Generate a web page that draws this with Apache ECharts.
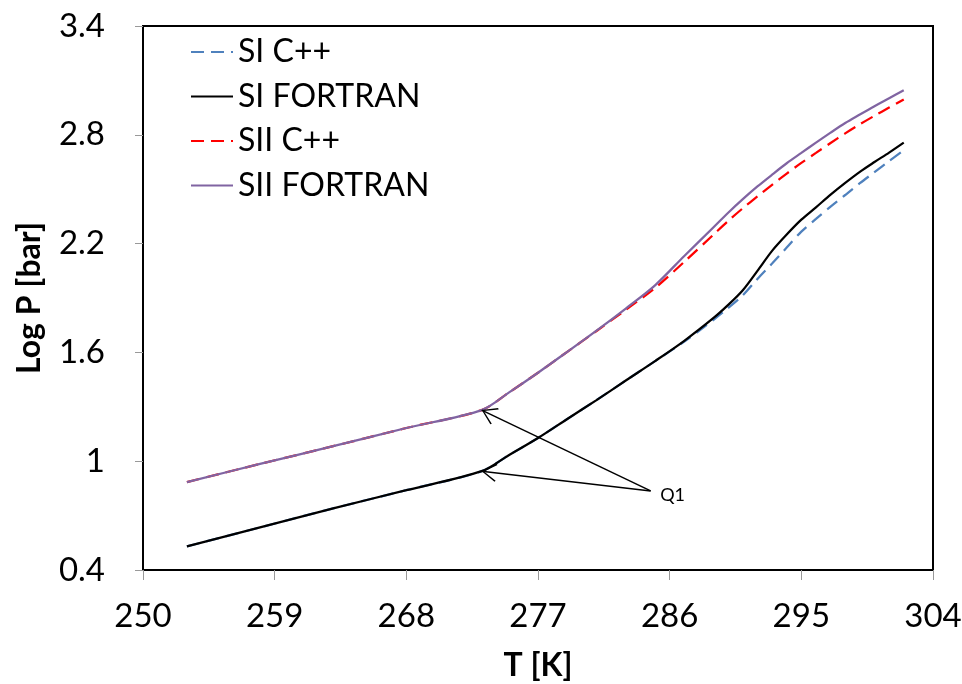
<!DOCTYPE html>
<html>
<head>
<meta charset="utf-8">
<script src="https://cdn.jsdelivr.net/npm/echarts@6/dist/echarts.min.js"></script>
<style>
html,body{margin:0;padding:0;background:#fff;}
#chart{width:962px;height:684px;}
</style>
</head>
<body>
<div id="chart"></div>
<script>
// Temperature points [K]
var temps = [253, 258, 263, 268, 273.15, 275, 277, 279, 281, 283, 285, 287, 289, 290, 291, 292, 293, 294, 295, 296, 297, 298, 299, 300, 301, 302];
// Log P [bar]
var siCpp      = [0.53, 0.635, 0.74, 0.84, 0.945, 1.033, 1.128, 1.233, 1.337, 1.445, 1.552, 1.660, 1.780, 1.845, 1.915, 2.005, 2.090, 2.178, 2.266, 2.336, 2.404, 2.468, 2.533, 2.594, 2.655, 2.715];
var siFortran  = [0.53, 0.635, 0.74, 0.84, 0.945, 1.033, 1.128, 1.233, 1.337, 1.445, 1.552, 1.664, 1.790, 1.862, 1.943, 2.050, 2.160, 2.250, 2.332, 2.400, 2.470, 2.535, 2.596, 2.650, 2.702, 2.757];
var siiCpp     = [0.885, 0.985, 1.083, 1.183, 1.282, 1.378, 1.488, 1.603, 1.718, 1.835, 1.955, 2.100, 2.250, 2.325, 2.395, 2.460, 2.524, 2.586, 2.645, 2.700, 2.755, 2.808, 2.858, 2.905, 2.950, 2.995];
var siiFortran = [0.885, 0.985, 1.083, 1.183, 1.282, 1.378, 1.488, 1.603, 1.720, 1.842, 1.970, 2.132, 2.290, 2.370, 2.445, 2.515, 2.580, 2.643, 2.700, 2.757, 2.812, 2.865, 2.912, 2.958, 3.002, 3.046];
var seriesNames = ['SI C++', 'SI FORTRAN', 'SII C++', 'SII FORTRAN'];
// Annotation "Q1": label position and arrow targets (kinks at 273.15 K)
var q1Label = [286.2, 0.814];
var q1Tail = [284.7, 0.836];
var q1Targets = [[273.15, 1.282], [273.15, 0.945]];

function pairs(ys) { return temps.map(function (t, i) { return [t, ys[i]]; }); }

var chevron = 'path://M10 0 L10.01 0 L10.01 0.01 Z M10 14 L20 27 L18.8 28 L10 16.2 L1.2 28 L0 27 Z';
var FONT = 'Lato';

function lineSeries(i, ys, color, dashed, extra) {
  var s = {name: seriesNames[i], type: 'line', data: pairs(ys), showSymbol: false, symbol: 'none',
    smooth: 0.3,
    lineStyle: {color: color, width: 2.25, type: dashed ? [13, 7] : 'solid'}, itemStyle: {color: color}};
  if (extra) { for (var k in extra) s[k] = extra[k]; }
  return s;
}

var chart = echarts.init(document.getElementById('chart'), null, {renderer: 'canvas'});
chart.setOption({
  animation: false,
  backgroundColor: '#fff',
  textStyle: {fontFamily: FONT},
  grid: {left: 143, right: 29, top: 26, bottom: 114, show: true, borderColor: '#000', borderWidth: 2,
    backgroundColor: 'transparent', containLabel: false, outerBoundsMode: 'none'},
  legend: {
    orient: 'vertical', left: 185, top: 31,
    itemWidth: 42, itemHeight: 14, itemGap: 12.5,
    itemStyle: {opacity: 0},
    textStyle: {fontSize: 32, lineHeight: 32, color: '#000', fontFamily: FONT},
    data: seriesNames
  },
  xAxis: {
    type: 'value', min: 250, max: 304, interval: 9,
    name: 'T [K]', nameLocation: 'middle', nameGap: 80, nameMoveOverlap: false,
    nameTextStyle: {fontSize: 32, fontWeight: 'bold', color: '#000', fontFamily: FONT},
    axisLine: {show: true, onZero: false, lineStyle: {color: '#000', width: 2}},
    axisTick: {show: true, inside: false, length: 10, lineStyle: {color: '#999', width: 1}},
    axisLabel: {fontSize: 33, color: '#000', margin: 30, fontFamily: FONT},
    splitLine: {show: false}
  },
  yAxis: {
    type: 'value', min: 0.4, max: 3.4, interval: 0.6,
    name: 'Log P [bar]', nameLocation: 'middle', nameGap: 97, nameMoveOverlap: false,
    nameTextStyle: {fontSize: 32, fontWeight: 'bold', color: '#000', fontFamily: FONT},
    axisLine: {show: true, onZero: false, lineStyle: {color: '#000', width: 2}},
    axisTick: {show: true, inside: false, length: 8, lineStyle: {color: '#999', width: 1}},
    axisLabel: {fontSize: 33, color: '#000', margin: 38, fontFamily: FONT,
      formatter: function (v) { return String(parseFloat(v.toFixed(1))); }},
    splitLine: {show: false}
  },
  series: [
    lineSeries(0, siCpp, '#4F81BD', true),
    lineSeries(1, siFortran, '#000000', false, {
      markLine: {
        silent: true, animation: false,
        symbol: ['none', chevron], symbolSize: [18, 30],
        label: {show: false},
        lineStyle: {color: '#000', width: 1.5, type: 'solid'},
        emphasis: {disabled: true},
        data: q1Targets.map(function (t) { return [{coord: q1Tail}, {coord: t}]; })
      },
      markPoint: {
        silent: true, symbol: 'circle', symbolSize: 0,
        label: {show: true, position: 'inside', formatter: 'Q1', fontSize: 18, color: '#000', fontFamily: FONT},
        data: [{coord: q1Label}]
      }
    }),
    lineSeries(2, siiCpp, '#FF0000', true),
    lineSeries(3, siiFortran, '#8064A2', false)
  ]
});
</script>
</body>
</html>
